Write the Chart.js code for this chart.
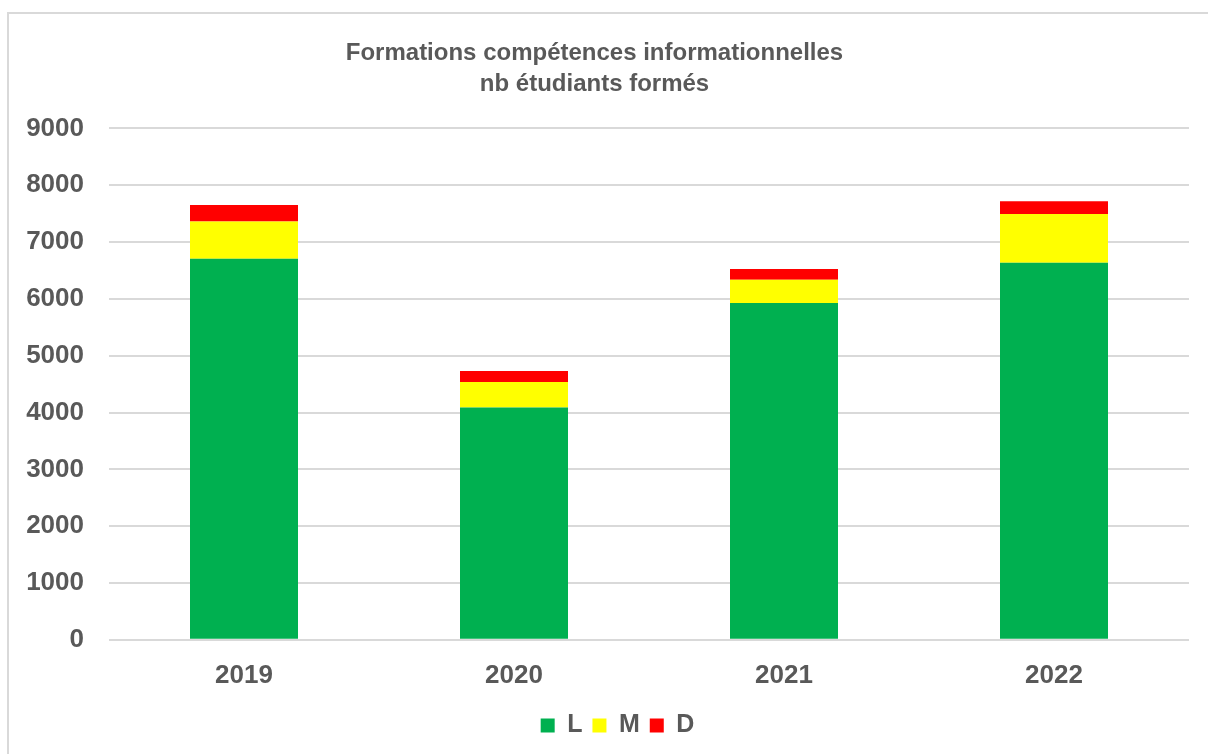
<!DOCTYPE html>
<html>
<head>
<meta charset="utf-8">
<script src="https://cdn.jsdelivr.net/npm/chart.js@4"></script>
<style>
  html, body { margin: 0; padding: 0; background: #fff; overflow: hidden; }
  #wrap { width: 1208px; height: 754px; position: relative; }
</style>
</head>
<body>
<div id="wrap"><canvas id="chart" width="1208" height="754"></canvas></div>
<script>
// values
const years = ['2019', '2020', '2021', '2022'];
const licence = [6705, 4090, 5926, 6635];
const master = [658, 445, 410, 857];
const doctorat = [287, 194, 188, 224];
const yTicks = [0, 1000, 2000, 3000, 4000, 5000, 6000, 7000, 8000, 9000];

const textGrey = '#595959';
const font = 'Liberation Sans, Arial, sans-serif';

// light frame around the chart (only top and left edges are visible)
const framePlugin = {
  id: 'frame',
  beforeDraw(chart) {
    const ctx = chart.ctx;
    ctx.save();
    ctx.fillStyle = '#fff';
    ctx.fillRect(0, 0, chart.width, chart.height);
    ctx.strokeStyle = '#d9d9d9';
    ctx.lineWidth = 2;
    ctx.strokeRect(8, 13, 1400, 1000);
    ctx.restore();
  }
};

// nudge the legend a bit to the right, like the original
const legendShift = {
  id: 'legendShift',
  afterLayout(chart) {
    if (chart.legend) chart.legend.left += 46;
  }
};

new Chart(document.getElementById('chart'), {
  type: 'bar',
  data: {
    labels: years,
    datasets: [
      { label: 'L', data: licence, backgroundColor: '#00b050' },
      { label: 'M', data: master, backgroundColor: '#ffff00' },
      { label: 'D', data: doctorat, backgroundColor: '#ff0000' }
    ]
  },
  options: {
    responsive: false,
    animation: false,
    layout: { padding: { left: 0, right: 19, top: 38, bottom: 6 } },
    datasets: {
      bar: { categoryPercentage: 1, barPercentage: 0.4 }
    },
    plugins: {
      title: {
        display: true,
        text: ['Formations compétences informationnelles', 'nb étudiants formés'],
        color: textGrey,
        font: { family: font, size: 24, weight: 'bold', lineHeight: 1.3 },
        padding: { top: 0, bottom: 28 }
      },
      legend: {
        position: 'bottom',
        labels: {
          color: textGrey,
          boxWidth: 14,
          boxHeight: 14,
          padding: 10,
          font: { family: font, size: 25, weight: 'bold' }
        }
      },
      tooltip: { enabled: false }
    },
    scales: {
      x: {
        stacked: true,
        grid: { display: false },
        border: { display: false },
        ticks: {
          color: textGrey,
          padding: 12,
          font: { family: font, size: 26, weight: 'bold' }
        }
      },
      y: {
        stacked: true,
        min: 0,
        max: 9000,
        afterBuildTicks(axis) {
          axis.ticks = yTicks.map(v => ({ value: v }));
        },
        afterFit(axis) { axis.width = 109; },
        grid: { color: '#d9d9d9', lineWidth: 2, drawTicks: false },
        border: { display: false },
        ticks: {
          color: textGrey,
          padding: 25,
          font: { family: font, size: 26, weight: 'bold' },
          callback: (v) => String(v)
        }
      }
    }
  },
  plugins: [framePlugin, legendShift]
});
</script>
</body>
</html>
